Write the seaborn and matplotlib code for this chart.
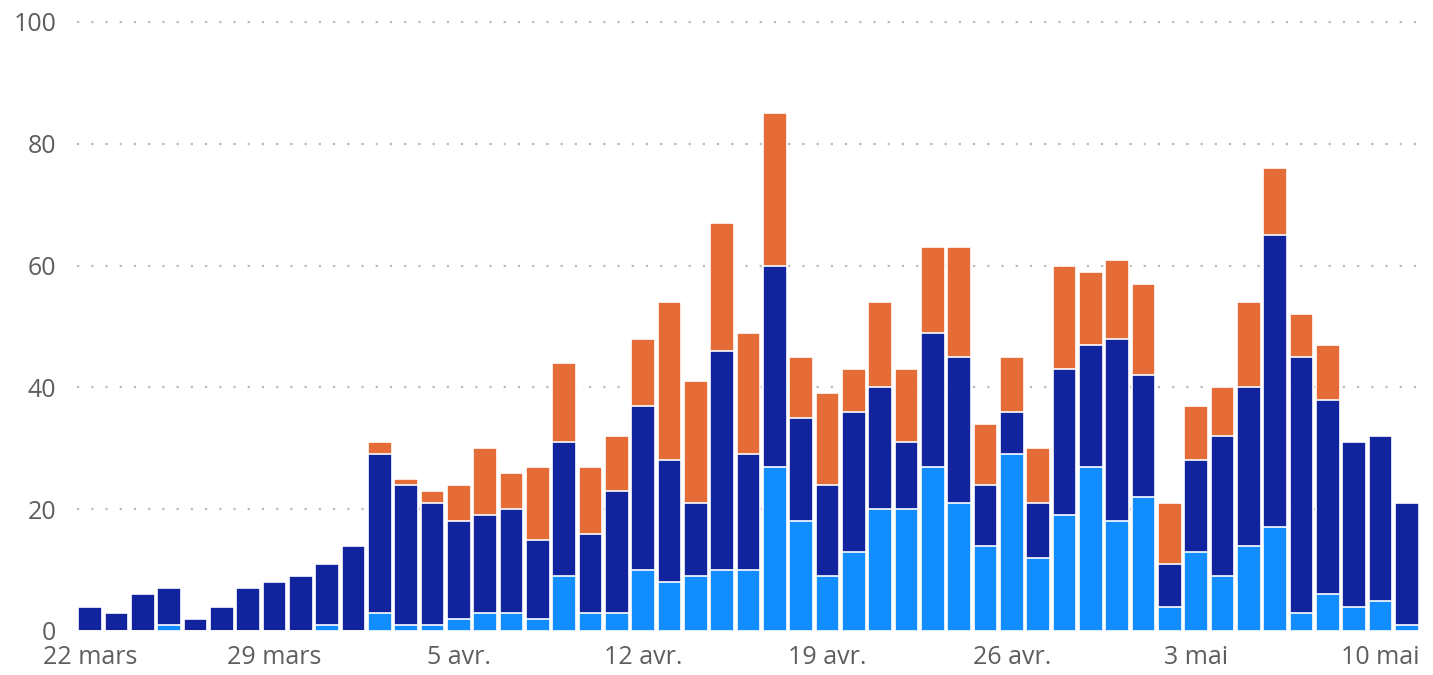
import numpy as np
import pandas as pd
import matplotlib
matplotlib.use('Agg')
import matplotlib.pyplot as plt
import seaborn as sb

# daily counts, three stacked series (bottom -> top)
days = pd.date_range('2020-03-22', periods=51, freq='D')
light = [0, 0, 0, 1, 0, 0, 0, 0, 0, 1, 0, 3, 1, 1, 2, 3, 3, 2, 9, 3, 3, 10, 8, 9, 10, 10,
         27, 18, 9, 13, 20, 20, 27, 21, 14, 29, 12, 19, 27, 18, 22, 4, 13, 9, 14, 17, 3, 6, 4, 5, 1]
dark = [4, 3, 6, 6, 2, 4, 7, 8, 9, 10, 14, 26, 23, 20, 16, 16, 17, 13, 22, 13, 20, 27, 20, 12, 36, 19,
        33, 17, 15, 23, 20, 11, 22, 24, 10, 7, 9, 24, 20, 30, 20, 7, 15, 23, 26, 48, 42, 32, 27, 27, 20]
orange = [0, 0, 0, 0, 0, 0, 0, 0, 0, 0, 0, 2, 1, 2, 6, 11, 6, 12, 13, 11, 9, 11, 26, 20, 21, 20,
          25, 10, 15, 7, 14, 12, 14, 18, 10, 9, 9, 17, 12, 13, 15, 10, 9, 8, 14, 11, 7, 9, 0, 0, 0]

months = {3: 'mars', 4: 'avr.', 5: 'mai'}
tick_idx = list(range(0, 51, 7))
tick_labels = [str(days[i].day) + ' ' + months[days[i].month] for i in tick_idx]

df = pd.DataFrame({'day': days.strftime('%Y-%m-%d'), 'light': light, 'dark': dark, 'orange': orange})
df['c1'] = df['light']
df['c2'] = df['light'] + df['dark']
df['c3'] = df['c2'] + df['orange']

sb.set_style('white')
plt.rcParams['font.family'] = ['Open Sans', 'DejaVu Sans']

fig = plt.figure(figsize=(14.33, 6.75), dpi=100)
ax = fig.add_axes([77 / 1433, 44 / 675, 1343 / 1433, 609 / 675])

# overlay cumulative totals, tallest first
for col, colour in [('c3', '#E66C37'), ('c2', '#12239E'), ('c1', '#118DFF')]:
    sb.barplot(data=df, x='day', y=col, color=colour, width=0.9, edgecolor='white',
               linewidth=1.2, saturation=1, ax=ax, zorder=3)

ax.set_xlim(-0.5, 50.5)
ax.set_ylim(0, 100)
ax.set_yticks([0, 20, 40, 60, 80, 100])
for yv in [20, 40, 60, 80, 100]:
    ax.axhline(yv, color='#BDBBB9', lw=1.6, linestyle=(0, (1, 5.4)), zorder=1, clip_on=False)
ax.set_xticks(tick_idx)
ax.set_xticklabels(tick_labels)
ax.tick_params(axis='both', length=0, labelsize=18, labelcolor='#605E5C')
ax.tick_params(axis='y', pad=15)
ax.tick_params(axis='x', pad=10)
ax.set_xlabel('')
ax.set_ylabel('')
for s in ax.spines.values():
    s.set_visible(False)
ax.grid(False)

fig.savefig('out.png', dpi=100)
